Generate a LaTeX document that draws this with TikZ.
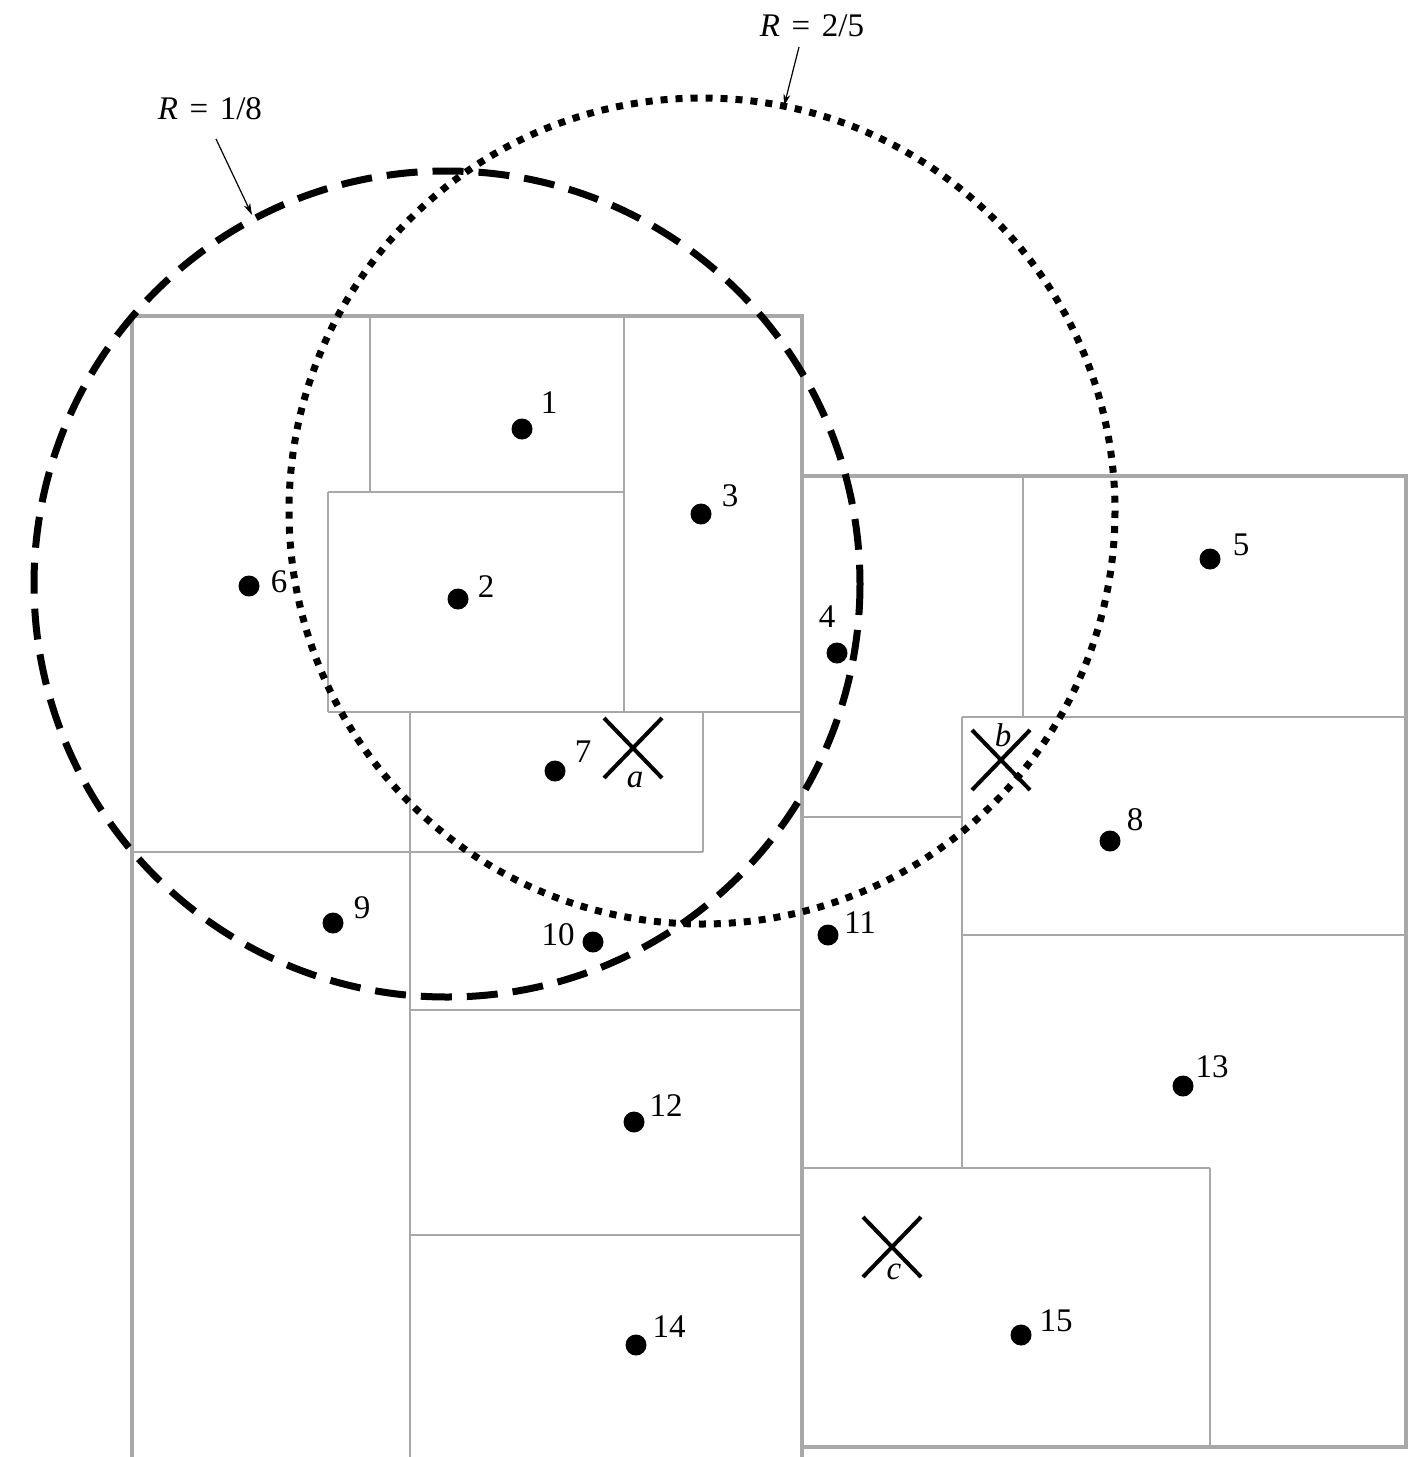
\documentclass[tikz,border=0pt]{standalone}
\usepackage{fontspec}
\setmainfont{Liberation Serif}
\usetikzlibrary{arrows.meta,shapes.misc}
\definecolor{boxgray}{HTML}{A8A8A8}
\begin{document}
\begin{tikzpicture}[x=0.5pt,y=-0.5pt,
  boxthick/.style={draw=boxgray,line width=2pt},
  boxthin/.style={draw=boxgray,line width=1pt},
  dotpt/.style={circle,fill=black,inner sep=0pt,minimum size=10.5pt},
  lbl/.style={inner sep=0pt,font=\fontsize{16.5}{19}\selectfont},
  xmark/.style={draw,cross out,line width=2pt,inner sep=0pt,minimum width=27pt,minimum height=28pt},
  rdash/.style={line width=3.5pt,dash pattern=on 15.5pt off 7.5pt},
  rdot/.style={line width=3.5pt,dash pattern=on 3.5pt off 4pt},
  callout/.style={line width=0.6pt,-{Stealth[length=6pt,width=3.5pt]}}
]
\useasboundingbox[fill=white] (0,0) rectangle (1409,1457);

% thin partition lines, left region
\draw[boxthin] (370,316) -- (370,492);
\draw[boxthin] (328,492) -- (624,492);
\draw[boxthin] (624,316) -- (624,712);
\draw[boxthin] (328,492) -- (328,712);
\draw[boxthin] (328,712) -- (802,712);
\draw[boxthin] (410,712) -- (410,1457);
\draw[boxthin] (703,712) -- (703,852);
\draw[boxthin] (132,852) -- (703,852);
\draw[boxthin] (410,1010) -- (802,1010);
\draw[boxthin] (410,1235) -- (802,1235);
% thin partition lines, right region
\draw[boxthin] (1023,476) -- (1023,717);
\draw[boxthin] (962,717) -- (1406,717);
\draw[boxthin] (962,717) -- (962,1168);
\draw[boxthin] (802,817) -- (962,817);
\draw[boxthin] (962,935) -- (1406,935);
\draw[boxthin] (802,1168) -- (1210,1168);
\draw[boxthin] (1210,1168) -- (1210,1447);

% thick outer boxes
\draw[boxthick] (132,1457) -- (132,316) -- (802,316) -- (802,1457);
\draw[boxthick] (802,476) rectangle (1406,1447);

% circles
\draw[rdash] (447,584) circle[radius=413];
\draw[rdot] (702,511) circle[radius=413];

% points
\node[dotpt] (p1) at (522,429) {};
\node[dotpt] (p2) at (458,599) {};
\node[dotpt] (p3) at (701,514) {};
\node[dotpt] (p4) at (837,653) {};
\node[dotpt] (p5) at (1210,559) {};
\node[dotpt] (p6) at (249,586) {};
\node[dotpt] (p7) at (555,771) {};
\node[dotpt] (p8) at (1110,841) {};
\node[dotpt] (p9) at (333,923) {};
\node[dotpt] (p10) at (593,942) {};
\node[dotpt] (p11) at (828,935) {};
\node[dotpt] (p12) at (634,1122) {};
\node[dotpt] (p13) at (1183,1086) {};
\node[dotpt] (p14) at (636,1345) {};
\node[dotpt] (p15) at (1021,1335) {};

\node[lbl] (l1) at (549,403) {1};
\node[lbl] (l2) at (486,587) {2};
\node[lbl] (l3) at (730,496) {3};
\node[lbl] (l4) at (827,617) {4};
\node[lbl] (l5) at (1241,545) {5};
\node[lbl] (l6) at (279,582) {6};
\node[lbl] (l7) at (583,752) {7};
\node[lbl] (l8) at (1135,820) {8};
\node[lbl] (l9) at (362,908) {9};
\node[lbl] (l10) at (558,935) {10};
\node[lbl] (l11) at (860,923) {11};
\node[lbl] (l12) at (666,1106) {12};
\node[lbl] (l13) at (1212,1067) {13};
\node[lbl] (l14) at (669,1327) {14};
\node[lbl] (l15) at (1056,1321) {15};

% query crosses
\node[xmark] (xa) at (633,748) {};
\node[xmark] (xb) at (1001,760) {};
\node[xmark] (xc) at (892,1247) {};
\node[lbl] (la) at (635,780) {\itshape a};
\node[lbl] (lb) at (1003,735) {\itshape b};
\node[lbl] (lc) at (894,1272) {\itshape c};

% radius callouts
\node[lbl] (r1) at (210,109) {\itshape R\upshape\hspace{0.35em}=\hspace{0.35em}1/8};
\node[lbl] (r2) at (812,26) {\itshape R\upshape\hspace{0.35em}=\hspace{0.35em}2/5};
\coordinate (r1s) at (216,139);
\coordinate (r1e) at (252,215);
\coordinate (r2s) at (799,47);
\coordinate (r2e) at (784,106);
\draw[callout] (r1s) -- (r1e);
\draw[callout] (r2s) -- (r2e);
\end{tikzpicture}
\end{document}
